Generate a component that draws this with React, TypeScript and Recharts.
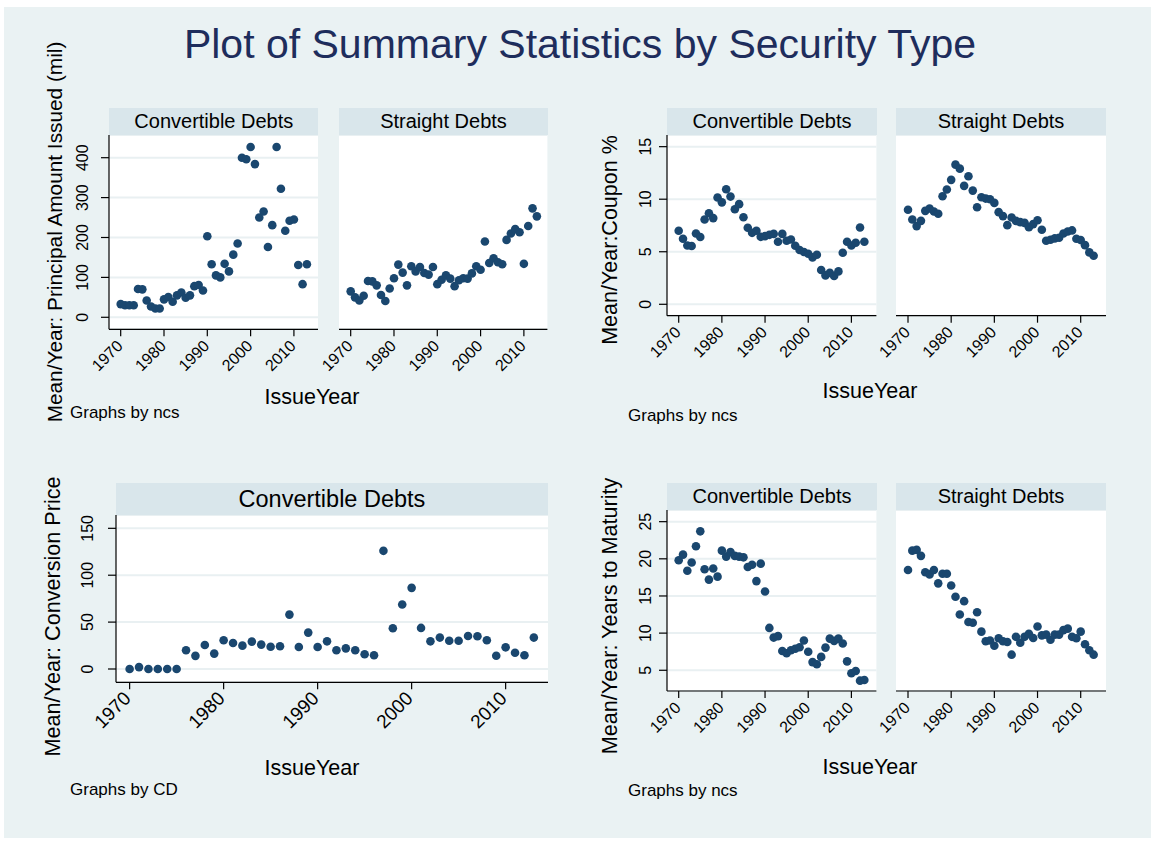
import { ScatterChart, Scatter, XAxis, YAxis, CartesianGrid } from "recharts";

const FONT = '"Liberation Sans", Arial, Helvetica, sans-serif';
const NAVY = "#1A476F";
const STRIP = "#D9E6EB";
const BG = "#EAF2F3";
const GRID = "#E9F0F2";

const years = [
  1970, 1971, 1972, 1973, 1974, 1975, 1976, 1977, 1978, 1979,
  1980, 1981, 1982, 1983, 1984, 1985, 1986, 1987, 1988, 1989,
  1990, 1991, 1992, 1993, 1994, 1995, 1996, 1997, 1998, 1999,
  2000, 2001, 2002, 2003, 2004, 2005, 2006, 2007, 2008, 2009,
  2010, 2011, 2012, 2013,
];
const yearTicks = [1970, 1980, 1990, 2000, 2010];

// mean principal amount issued (mil)
const principalConvertible = [
  33, 30, 30, 30, 71, 70, 42, 27, 22, 22,
  45, 51, 39, 55, 62, 49, 55, 78, 81, 67,
  203, 133, 105, 100, 134, 115, 157, 185, 400, 396,
  427, 384, 250, 265, 176, 231, 427, 322, 217, 242,
  245, 131, 83, 133,
];
const principalStraight = [
  65, 50, 42, 54, 91, 90, 80, 56, 41, 72,
  98, 132, 112, 80, 128, 115, 126, 111, 107, 126,
  83, 94, 105, 97, 78, 93, 98, 97, 110, 128,
  119, 190, 136, 148, 138, 133, 194, 210, 221, 213,
  134, 229, 273, 253,
];
// mean coupon %
const couponConvertible = [
  7.0, 6.23, 5.6, 5.54, 6.74, 6.4, 8.07, 8.67, 8.2, 10.16,
  9.7, 10.95, 10.25, 9.05, 9.53, 8.29, 7.28, 6.8, 7.0, 6.42,
  6.49, 6.61, 6.7, 5.95, 6.7, 6.04, 6.17, 5.57, 5.16, 4.97,
  4.81, 4.46, 4.72, 3.26, 2.75, 3.0, 2.69, 3.13, 4.9, 5.95,
  5.6, 5.85, 7.31, 5.95,
];
const couponStraight = [
  8.99, 8.07, 7.44, 7.94, 8.89, 9.11, 8.83, 8.61, 10.28, 10.92,
  11.84, 13.29, 12.91, 11.27, 12.18, 10.82, 9.24, 10.19, 10.06, 10.0,
  9.65, 8.77, 8.39, 7.53, 8.26, 7.94, 7.82, 7.75, 7.34, 7.63,
  8.0, 7.09, 6.04, 6.14, 6.27, 6.33, 6.74, 6.93, 7.03, 6.23,
  6.11, 5.63, 4.94, 4.62,
];
// mean conversion price
const conversionPrice = [
  0, 2, 0, 0, 0, 0, 20, 14, 25.6, 16.4,
  30.6, 27.8, 24.9, 29.2, 26, 23.8, 24.2, 58, 23.5, 38.8,
  23.5, 29.5, 20, 22, 20, 15.7, 14.6, 126, 43.4, 68.7,
  86.5, 43.8, 29.5, 33.5, 30.2, 30.2, 35.2, 34.9, 30.6, 14.2,
  23.1, 17.4, 14.6, 33.5,
];
// mean years to maturity
const maturityConvertible = [
  19.8, 20.56, 18.4, 19.5, 21.7, 23.7, 18.6, 17.2, 18.7, 17.6,
  21.1, 20.3, 20.9, 20.4, 20.3, 20.2, 18.9, 19.2, 17.0, 19.35,
  15.6, 10.7, 9.4, 9.6, 7.6, 7.3, 7.7, 7.9, 8.1, 9.0,
  7.5, 6.1, 5.8, 6.8, 8.05, 9.26, 8.95, 9.26, 8.6, 6.2,
  4.6, 4.9, 3.6, 3.7,
];
const maturityStraight = [
  18.5, 21.1, 21.2, 20.4, 18.2, 17.9, 18.5, 16.7, 18.0, 18.0,
  16.4, 14.9, 12.5, 14.3, 11.5, 11.4, 12.8, 10.2, 8.9, 9.0,
  8.3, 9.3, 8.9, 8.8, 7.1, 9.5, 8.7, 9.5, 9.9, 9.35,
  10.9, 9.7, 9.8, 9.1, 9.8, 9.8, 10.4, 10.6, 9.5, 9.3,
  10.2, 8.5, 7.7, 7.1,
];

const principalTicks = [0, 100, 200, 300, 400];
const couponTicks = [0, 5, 10, 15];
const priceTicks = [0, 50, 100, 150];
const maturityTicks = [5, 10, 15, 20, 25];

const rows = (vals: number[]) => years.map((year, i) => ({ year, value: vals[i] }));

const Dot = (props: any) => <circle cx={props.cx} cy={props.cy} r={4.3} fill={NAVY} />;

type PanelProps = {
  x: number;
  y: number;
  w: number;
  h: number;
  values: number[];
  xDomain: [number, number];
  yDomain: [number, number];
  yTicks: number[];
  showY?: boolean;
  yGap?: number;
  xFont?: number;
  xDx?: number;
  xDy?: number;
  header: string;
  headerTop: number;
  headerFont: number;
};

function Panel(p: PanelProps) {
  const yw = 80;
  const xh = 70;
  const xFont = p.xFont ?? 16;
  const xDx = p.xDx ?? 3;
  const xDy = p.xDy ?? 10.6;
  const yGap = p.yGap ?? 20;
  const line = { stroke: "#000", strokeWidth: 1.2 };
  return (
    <>
      <div
        style={{
          position: "absolute",
          left: p.x,
          top: p.headerTop,
          width: p.w,
          height: p.y - p.headerTop,
          background: STRIP,
          display: "flex",
          alignItems: "center",
          justifyContent: "center",
          fontFamily: FONT,
          fontSize: p.headerFont,
          color: "#000",
        }}
      >
        {p.header}
      </div>
      <div style={{ position: "absolute", left: p.x - yw, top: p.y }}>
        <ScatterChart
          width={yw + p.w}
          height={p.h + xh}
          margin={{ top: 0, right: 0, bottom: 0, left: 0 }}
        >
          <CartesianGrid vertical={false} fill="#fff" fillOpacity={1} stroke={GRID} strokeWidth={2} />
          <XAxis
            type="number"
            dataKey="year"
            domain={p.xDomain}
            allowDataOverflow
            ticks={yearTicks}
            interval={0}
            height={xh}
            tickSize={7}
            tickMargin={0}
            axisLine={line}
            tickLine={line}
            tick={(t: any) => {
              const ax = t.x + xDx;
              const ay = t.y + xDy;
              return (
                <text
                  x={ax}
                  y={ay}
                  transform={`rotate(-45 ${ax} ${ay})`}
                  textAnchor="end"
                  fontSize={xFont}
                  fontFamily={FONT}
                  fill="#000"
                >
                  {t.payload.value}
                </text>
              );
            }}
          />
          <YAxis
            type="number"
            dataKey="value"
            domain={p.yDomain}
            allowDataOverflow
            ticks={p.yTicks}
            interval={0}
            width={yw}
            tickSize={8}
            tickMargin={0}
            axisLine={p.showY ? line : false}
            tickLine={p.showY ? line : false}
            tick={
              p.showY
                ? (t: any) => {
                    const bx = t.x + 8 - yGap;
                    return (
                      <text
                        x={bx}
                        y={t.y}
                        transform={`rotate(-90 ${bx} ${t.y})`}
                        textAnchor="middle"
                        fontSize={16}
                        fontFamily={FONT}
                        fill="#000"
                      >
                        {t.payload.value}
                      </text>
                    );
                  }
                : false
            }
          />
          <Scatter data={rows(p.values)} isAnimationActive={false} shape={Dot} />
        </ScatterChart>
      </div>
    </>
  );
}

function VText({ x, y, size, children }: { x: number; y: number; size: number; children: string }) {
  return (
    <text
      x={x}
      y={y}
      transform={`rotate(-90 ${x} ${y})`}
      textAnchor="middle"
      fontSize={size}
      fontFamily={FONT}
      fill="#000"
    >
      {children}
    </text>
  );
}

export default function App() {
  const smallX1: [number, number] = [1967.3, 2015.56];
  const smallX2: [number, number] = [1967.3, 2015.43];
  const smallX3: [number, number] = [1967.29, 2015.79];
  const smallX4: [number, number] = [1967.22, 2015.86];
  return (
    <div
      style={{
        position: "absolute",
        left: 0,
        top: 0,
        width: 1156,
        height: 841,
        background: "#fff",
        overflow: "hidden",
      }}
    >
      <div style={{ position: "absolute", left: 4, top: 7, width: 1147, height: 831, background: BG }} />

      {/* principal amount */}
      <Panel x={109.3} y={135} w={209} h={194.3} headerTop={108} headerFont={20} header="Convertible Debts"
        values={principalConvertible} xDomain={smallX1} yDomain={[-30.1, 456.9]} yTicks={principalTicks} showY yGap={21} />
      <Panel x={339.3} y={135} w={208.4} h={194.3} headerTop={108} headerFont={20} header="Straight Debts"
        values={principalStraight} xDomain={smallX2} yDomain={[-30.1, 456.9]} yTicks={principalTicks} />

      {/* coupon */}
      <Panel x={667.3} y={135} w={209.4} h={180.7} headerTop={108} headerFont={20} header="Convertible Debts"
        values={couponConvertible} xDomain={smallX3} yDomain={[-1.085, 16.11]} yTicks={couponTicks} showY yGap={16} />
      <Panel x={896} y={135} w={210} h={180.7} headerTop={108} headerFont={20} header="Straight Debts"
        values={couponStraight} xDomain={smallX4} yDomain={[-1.085, 16.11]} yTicks={couponTicks} />

      {/* conversion price */}
      <Panel x={115.7} y={515} w={432.6} h={167.3} headerTop={483.3} headerFont={23.5} header="Convertible Debts"
        values={conversionPrice} xDomain={[1968.55, 2014.57]} yDomain={[-14.18, 164.2]} yTicks={priceTicks} showY
        yGap={22.7} xFont={19} xDx={2.4} xDy={10.3} />

      {/* years to maturity */}
      <Panel x={667.3} y={510} w={209.4} h={181} headerTop={483} headerFont={20} header="Convertible Debts"
        values={maturityConvertible} xDomain={smallX3} yDomain={[2.21, 26.57]} yTicks={maturityTicks} showY yGap={16} />
      <Panel x={896} y={510} w={210} h={181} headerTop={483} headerFont={20} header="Straight Debts"
        values={maturityStraight} xDomain={smallX4} yDomain={[2.21, 26.57]} yTicks={maturityTicks} />

      <svg width={1156} height={841} style={{ position: "absolute", left: 0, top: 0, pointerEvents: "none" }}>
        <text x={580} y={58} textAnchor="middle" fontSize={41} fontFamily={FONT} fill="#1E2D5C">
          Plot of Summary Statistics by Security Type
        </text>

        <VText x={61.7} y={232} size={20.8}>Mean/Year: Principal Amount Issued (mil)</VText>
        <VText x={617} y={240} size={21.5}>Mean/Year:Coupon %</VText>
        <VText x={59.5} y={616.5} size={21.6}>Mean/Year: Conversion Price</VText>
        <VText x={617} y={616} size={21.6}>Mean/Year: Years to Maturity</VText>

        <g fontFamily={FONT} fill="#000">
          <text x={312} y={404} textAnchor="middle" fontSize={21.5}>IssueYear</text>
          <text x={870} y={398} textAnchor="middle" fontSize={21.5}>IssueYear</text>
          <text x={312} y={775} textAnchor="middle" fontSize={21.5}>IssueYear</text>
          <text x={870} y={774} textAnchor="middle" fontSize={21.5}>IssueYear</text>

          <text x={70} y={418} fontSize={17}>Graphs by ncs</text>
          <text x={628} y={421} fontSize={17}>Graphs by ncs</text>
          <text x={70} y={795} fontSize={17}>Graphs by CD</text>
          <text x={628} y={796} fontSize={17}>Graphs by ncs</text>
        </g>
      </svg>
    </div>
  );
}
